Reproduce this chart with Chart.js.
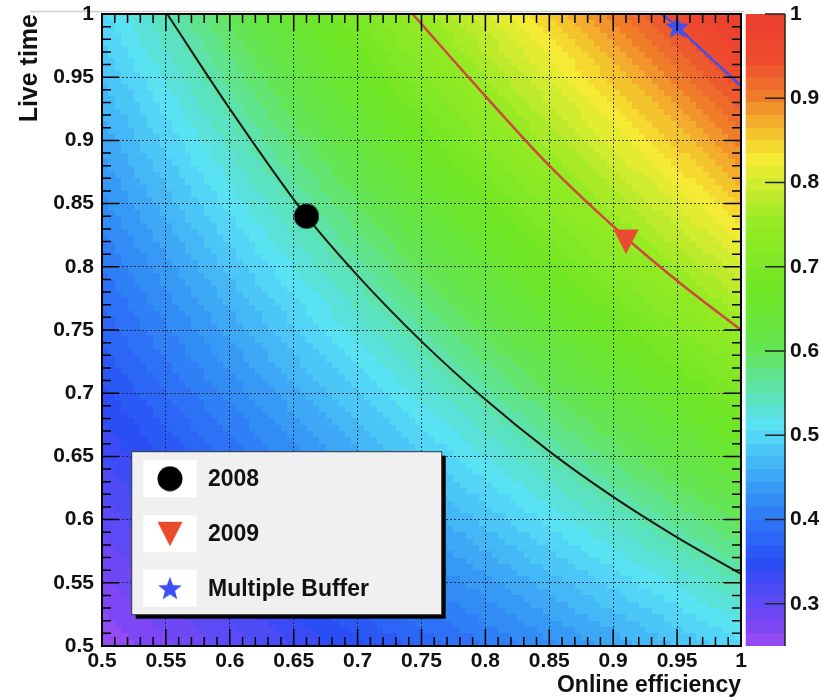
<!DOCTYPE html>
<html>
<head>
<meta charset="utf-8">
<script src="https://cdn.jsdelivr.net/npm/chart.js@4.4.1/dist/chart.umd.min.js"></script>
<style>
  html, body { margin: 0; padding: 0; background: #fff; }
  #wrap { width: 821px; height: 699px; }
</style>
</head>
<body>
<div id="wrap"><canvas id="effChart" width="821" height="699"></canvas></div>
<script>
// axis ranges
var xRange = [0.5, 1.0];
var yRange = [0.5, 1.0];
var zRange = [0.25, 1.0];

// tick values / labels
var xTickValues = [0.5, 0.55, 0.6, 0.65, 0.7, 0.75, 0.8, 0.85, 0.9, 0.95, 1.0];
var xTickLabels = ["0.5", "0.55", "0.6", "0.65", "0.7", "0.75", "0.8", "0.85", "0.9", "0.95", "1"];
var yTickValues = [0.5, 0.55, 0.6, 0.65, 0.7, 0.75, 0.8, 0.85, 0.9, 0.95, 1.0];
var yTickLabels = ["0.5", "0.55", "0.6", "0.65", "0.7", "0.75", "0.8", "0.85", "0.9", "0.95", "1"];
var zTickValues = [0.3, 0.4, 0.5, 0.6, 0.7, 0.8, 0.9, 1.0];
var zTickLabels = ["0.3", "0.4", "0.5", "0.6", "0.7", "0.8", "0.9", "1"];

// constant total-efficiency curves through each working point
var curve2008X = [0.551, 0.6, 0.66, 0.7, 0.75, 0.8, 0.85, 0.9, 0.95, 1.0];
var curve2008Y = [1.0, 0.925, 0.84, 0.793, 0.741, 0.695, 0.654, 0.618, 0.586, 0.557];
var curve2009X = [0.743, 0.8, 0.85, 0.91, 0.95, 1.0];
var curve2009Y = [1.0, 0.935, 0.88, 0.823, 0.789, 0.75];
var curveMbX = [0.938, 0.95, 0.97, 1.0];
var curveMbY = [1.0, 0.99, 0.971, 0.943];

// working points
var pointLabels = ["2008", "2009", "Multiple Buffer"];
var pointX = [0.66, 0.91, 0.95];
var pointY = [0.84, 0.82, 0.99];

var nBins = 100;
var nColors = 50;

// rainbow palette (violet -> red), keyed by hue
var paletteAnchors = [
  [0, [236, 64, 46]],
  [17, [237, 74, 46]],
  [34, [240, 125, 42]],
  [50, [244, 195, 44]],
  [62, [245, 236, 52]],
  [90, [150, 235, 36]],
  [120, [110, 230, 36]],
  [145, [100, 229, 80]],
  [165, [92, 227, 180]],
  [180, [88, 226, 246]],
  [210, [50, 146, 246]],
  [240, [40, 78, 246]],
  [270, [130, 70, 245]],
  [280, [168, 82, 240]]
];

function hueColor(h) {
  for (var i = 0; i < paletteAnchors.length - 1; i++) {
    var a = paletteAnchors[i], b = paletteAnchors[i + 1];
    if (h >= a[0] && h <= b[0]) {
      var t = (h - a[0]) / (b[0] - a[0]);
      var c = a[1].map(function (v, k) { return Math.round(v + (b[1][k] - v) * t); });
      return "rgb(" + c.join(",") + ")";
    }
  }
  return "rgb(236,64,46)";
}

var palette = [];
for (var i = 0; i < nColors; i++) {
  palette.push(hueColor(i === nColors - 1 ? 0 : 280 - (i + 1) * (280 / nColors)));
}

function colorFor(z) {
  var k = Math.floor((z - zRange[0]) / (zRange[1] - zRange[0]) * nColors);
  return palette[Math.max(0, Math.min(nColors - 1, k))];
}

// marker images
function makeMarker(w, h, draw) {
  var c = document.createElement("canvas");
  c.width = w;
  c.height = h;
  draw(c.getContext("2d"), w, h);
  return c;
}
var circleMarker = makeMarker(26, 26, function (g, w, h) {
  g.fillStyle = "#000";
  g.beginPath();
  g.arc(w / 2, h / 2, 12.5, 0, 2 * Math.PI);
  g.fill();
});
var triangleMarker = makeMarker(26, 26, function (g, w, h) {
  g.fillStyle = "#ea4a2e";
  g.beginPath();
  g.moveTo(0.5, 1);
  g.lineTo(w - 0.5, 1);
  g.lineTo(w / 2, h - 0.5);
  g.closePath();
  g.fill();
});
var starMarker = makeMarker(26, 26, function (g, w, h) {
  g.fillStyle = "#3c50f5";
  g.beginPath();
  for (var k = 0; k < 10; k++) {
    var r = k % 2 === 0 ? 12.5 : 5.2;
    var a = -Math.PI / 2 + k * Math.PI / 5;
    var px = w / 2 + r * Math.cos(a), py = h / 2 + 1 + r * Math.sin(a);
    if (k === 0) g.moveTo(px, py); else g.lineTo(px, py);
  }
  g.closePath();
  g.fill();
});
var markers = [circleMarker, triangleMarker, starMarker];

function pairs(xs, ys) {
  return xs.map(function (x, i) { return { x: x, y: ys[i] }; });
}

// fixed box sizes; drop the label padding so the plot frame stays put
function fixSize(prop, size) {
  return function (s) {
    s[prop] = size;
    s.paddingTop = 0;
    s.paddingBottom = 0;
    s.paddingLeft = 0;
    s.paddingRight = 0;
  };
}

// heat map, colour bar and top rule, drawn under the grid
var backgroundPlugin = {
  id: "heatmap",
  beforeDraw: function (chart) {
    var ctx = chart.ctx, xs = chart.scales.x, ys = chart.scales.y, zs = chart.scales.z;
    ctx.save();
    ctx.fillStyle = "#fff";
    ctx.fillRect(0, 0, chart.width, chart.height);

    var dx = (xRange[1] - xRange[0]) / nBins, dy = (yRange[1] - yRange[0]) / nBins;
    for (var i = 0; i < nBins; i++) {
      var x0 = xRange[0] + i * dx;
      var px0 = Math.round(xs.getPixelForValue(x0)), px1 = Math.round(xs.getPixelForValue(x0 + dx));
      for (var j = 0; j < nBins; j++) {
        var y0 = yRange[0] + j * dy;
        var py0 = Math.round(ys.getPixelForValue(y0)), py1 = Math.round(ys.getPixelForValue(y0 + dy));
        // total efficiency = online efficiency x live time
        ctx.fillStyle = colorFor((x0 + dx / 2) * (y0 + dy / 2));
        ctx.fillRect(px0, py1, px1 - px0, py0 - py1);
      }
    }

    // colour bar
    var dz = (zRange[1] - zRange[0]) / nColors;
    var bx0 = zs.left + 4.7, bx1 = zs.left + 44;
    for (var k = 0; k < nColors; k++) {
      var za = Math.round(zs.getPixelForValue(zRange[0] + k * dz));
      var zb = Math.round(zs.getPixelForValue(zRange[0] + (k + 1) * dz));
      ctx.fillStyle = palette[k];
      ctx.fillRect(bx0, zb, bx1 - bx0, za - zb);
    }
    ctx.strokeStyle = "#222";
    ctx.lineWidth = 1.5;
    ctx.beginPath();
    ctx.moveTo(bx1, zs.top);
    ctx.lineTo(bx1, zs.bottom);
    zTickValues.forEach(function (v) {
      var py = zs.getPixelForValue(v);
      ctx.moveTo(bx1 - 20, py);
      ctx.lineTo(bx1, py);
    });
    ctx.stroke();

    ctx.strokeStyle = "#cfcfcf";
    ctx.lineWidth = 1.5;
    ctx.beginPath();
    ctx.moveTo(30, 11.5);
    ctx.lineTo(744, 11.5);
    ctx.stroke();
    ctx.restore();
  },
  afterDatasetsDraw: function (chart) {
    var ctx = chart.ctx, a = chart.chartArea, xs = chart.scales.x, ys = chart.scales.y;
    ctx.save();
    ctx.strokeStyle = "#000";
    ctx.lineWidth = 1.5;
    ctx.beginPath();
    function ticksFor(values, scale, cb) {
      for (var i = 0; i < values.length; i++) {
        cb(scale.getPixelForValue(values[i]), 17);
        if (i < values.length - 1) {
          var step = (values[i + 1] - values[i]) / 5;
          for (var m = 1; m < 5; m++) cb(scale.getPixelForValue(values[i] + m * step), 9);
        }
      }
    }
    ticksFor(xTickValues, xs, function (px, len) {
      ctx.moveTo(px, a.bottom); ctx.lineTo(px, a.bottom - len);
      ctx.moveTo(px, a.top); ctx.lineTo(px, a.top + len);
    });
    ticksFor(yTickValues, ys, function (py, len) {
      ctx.moveTo(a.left, py); ctx.lineTo(a.left + len, py);
      ctx.moveTo(a.right, py); ctx.lineTo(a.right - len, py);
    });
    ctx.stroke();
    ctx.lineWidth = 2;
    ctx.strokeRect(a.left, a.top, a.right - a.left, a.bottom - a.top);
    ctx.restore();
  },
  afterDraw: function (chart) {
    // legend box
    var ctx = chart.ctx;
    var bx = 131.7, by = 451.7, bw = 310, bh = 163;
    ctx.save();
    ctx.fillStyle = "#000";
    ctx.fillRect(bx + 4, by + 4, bw, bh);
    ctx.fillStyle = "#f0f0f0";
    ctx.fillRect(bx, by, bw, bh);
    ctx.strokeStyle = "#333";
    ctx.lineWidth = 1;
    ctx.strokeRect(bx, by, bw, bh);
    var rowY = [478.7, 533.8, 588.3];
    ctx.font = "bold 23px 'Liberation Sans', Arial, sans-serif";
    ctx.textBaseline = "middle";
    ctx.textAlign = "left";
    for (var i = 0; i < pointLabels.length; i++) {
      ctx.fillStyle = "#fff";
      ctx.fillRect(143.3, rowY[i] - 18.5, 53.4, 37);
      var m = markers[i];
      ctx.drawImage(m, 170 - m.width / 2, rowY[i] - m.height / 2);
      ctx.fillStyle = "#111";
      ctx.fillText(pointLabels[i], 208, rowY[i] + 1);
    }
    ctx.restore();
  }
};

var tickFont = { family: "'Liberation Sans', Arial, sans-serif", weight: "bold", size: 21 };
var titleFont = { family: "'Liberation Sans', Arial, sans-serif", weight: "bold", size: 23 };

var ctx = document.getElementById("effChart").getContext("2d");

var chart = new Chart(ctx, {
  type: "scatter",
  data: {
    datasets: [
      {
        label: pointLabels[0],
        data: [{ x: pointX[0], y: pointY[0] }],
        pointStyle: circleMarker,
        clip: false,
      },
      {
        label: pointLabels[1],
        data: [{ x: pointX[1], y: pointY[1] }],
        pointStyle: triangleMarker,
        clip: false,
      },
      {
        label: pointLabels[2],
        data: [{ x: pointX[2], y: pointY[2] }],
        pointStyle: starMarker,
        clip: false,
      },
      {
        label: "2008 curve",
        data: pairs(curve2008X, curve2008Y),
        showLine: true,
        borderColor: "#1a1a1a",
        borderWidth: 2,
        pointRadius: 0,
        cubicInterpolationMode: "monotone",
      },
      {
        label: "2009 curve",
        data: pairs(curve2009X, curve2009Y),
        showLine: true,
        borderColor: "#cc4a3a",
        borderWidth: 2.5,
        pointRadius: 0,
        cubicInterpolationMode: "monotone",
      },
      {
        label: "Multiple Buffer curve",
        data: pairs(curveMbX, curveMbY),
        showLine: true,
        borderColor: "#4650e6",
        borderWidth: 2.5,
        pointRadius: 0,
        cubicInterpolationMode: "monotone",
      },
    ],
  },
  options: {
    responsive: false,
    animation: false,
    layout: { padding: { top: 14, left: 0, right: 0, bottom: 0 } },
    plugins: {
      legend: { display: false },
      tooltip: { enabled: false },
    },
    scales: {
      x: {
        type: "linear",
        min: xRange[0],
        max: xRange[1],
        afterFit: fixSize("height", 53),
        afterBuildTicks: function (s) { s.ticks = xTickValues.map(function (v) { return { value: v }; }); },
        ticks: {
          font: tickFont,
          color: "#111",
          padding: 3,
          maxRotation: 0,
          autoSkip: false,
          callback: function (v, i) { return xTickLabels[i]; },
        },
        grid: { color: "rgba(25,25,25,0.8)", lineWidth: 1, drawTicks: false },
        border: { display: false, dash: [2, 2] },
        title: {
          display: true,
          text: "Online efficiency",
          align: "end",
          font: titleFont,
          color: "#111",
          padding: 0,
        },
      },
      y: {
        type: "linear",
        min: yRange[0],
        max: yRange[1],
        afterFit: fixSize("width", 102),
        afterBuildTicks: function (s) { s.ticks = yTickValues.map(function (v) { return { value: v }; }); },
        ticks: {
          font: tickFont,
          color: "#111",
          padding: 8,
          autoSkip: false,
          callback: function (v, i) { return yTickLabels[i]; },
        },
        grid: { color: "rgba(25,25,25,0.8)", lineWidth: 1, drawTicks: false },
        border: { display: false, dash: [2, 2] },
        title: {
          display: true,
          text: "Live time",
          align: "end",
          font: { family: titleFont.family, weight: "bold", size: 25 },
          color: "#111",
          padding: 15,
        },
      },
      z: {
        type: "linear",
        position: "right",
        min: zRange[0],
        max: zRange[1],
        afterFit: fixSize("width", 80),
        afterBuildTicks: function (s) { s.ticks = zTickValues.map(function (v) { return { value: v }; }); },
        ticks: {
          font: tickFont,
          color: "#111",
          padding: 49,
          autoSkip: false,
          callback: function (v, i) { return zTickLabels[i]; },
        },
        grid: { display: false, drawTicks: false },
        border: { display: false },
      },
    },
  },
  plugins: [backgroundPlugin],
});
</script>
</body>
</html>
